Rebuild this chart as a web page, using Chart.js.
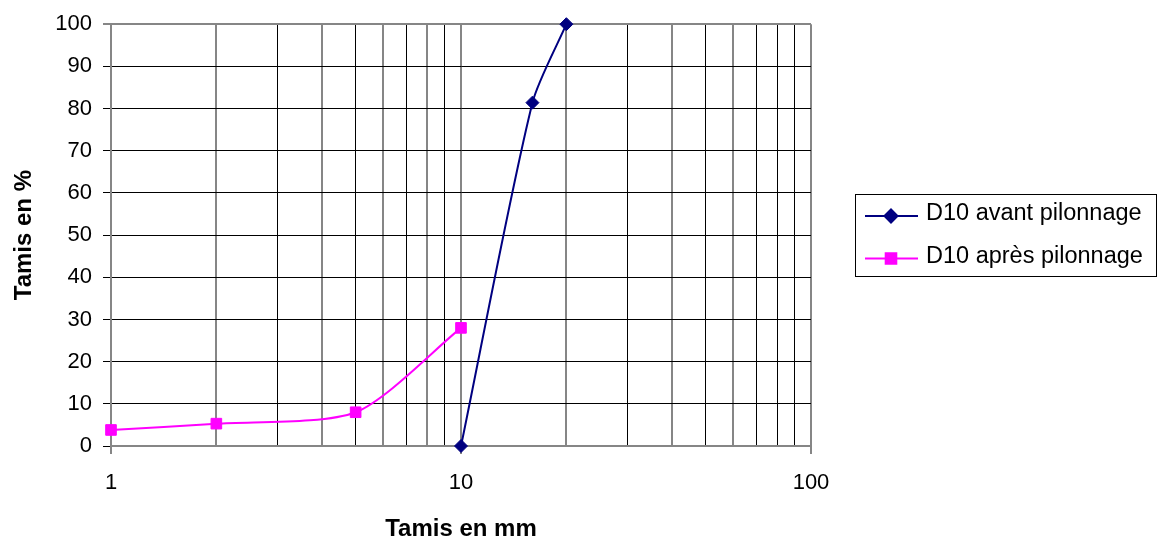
<!DOCTYPE html>
<html>
<head>
<meta charset="utf-8">
<script src="https://cdn.jsdelivr.net/npm/chart.js@4/dist/chart.umd.min.js"></script>
<style>
  html, body { margin: 0; padding: 0; background: #fff; }
  #wrap { width: 1157px; height: 538px; position: relative; }
</style>
</head>
<body>
<div id="wrap"><canvas id="c" width="1157" height="538"></canvas></div>
<script>
// Sieve sizes (mm) and cumulative passing (%)
const sieveBefore = [10, 16, 20];
const passBefore = [0, 81.4, 100];
const sieveAfter = [1, 2, 5, 10];
const passAfter = [3.8, 5.3, 8, 28];

const seriesNames = ['D10 avant pilonnage', 'D10 après pilonnage'];

// Logarithmic grid positions and the labelled decades
const xGridValues = [1, 2, 3, 4, 5, 6, 7, 8, 9, 10, 20, 30, 40, 50, 60, 70, 80, 90, 100];
const xLabelValues = [1, 10, 100];
const yTickValues = [0, 10, 20, 30, 40, 50, 60, 70, 80, 90, 100];

const xTitle = 'Tamis en mm';
const yTitle = 'Tamis en %';

const FONT = "'Liberation Sans', Arial, sans-serif";
const GRAY = '#868686';
const grayLines = new Set([1, 2, 4, 6, 8, 10, 20, 40, 60, 100]);

const toPoints = (xs, ys) => xs.map((x, i) => ({ x, y: ys[i] }));

// Boxed legend to the right of the plot
const boxLegend = {
  id: 'boxLegend',
  afterDraw(chart) {
    const ctx = chart.ctx;
    const left = 855.5, top = 194.5, right = 1156.5, bottom = 276.5;
    ctx.save();
    ctx.strokeStyle = '#000';
    ctx.lineWidth = 1;
    ctx.strokeRect(left, top, right - left, bottom - top);
    const rows = [216, 258.5];
    chart.data.datasets.forEach((ds, i) => {
      const y = rows[i];
      ctx.strokeStyle = ds.borderColor;
      ctx.lineWidth = ds.borderWidth;
      ctx.beginPath();
      ctx.moveTo(865, y);
      ctx.lineTo(918, y);
      ctx.stroke();
      Chart.helpers.drawPoint(ctx, {
        pointStyle: ds.pointStyle,
        radius: ds.pointRadius,
        borderWidth: 1,
        rotation: 0
      }, 891, y);
      ctx.fillStyle = ds.pointBackgroundColor;
      ctx.strokeStyle = ds.pointBorderColor;
      ctx.fill();
      ctx.fillStyle = '#000';
      ctx.font = '23.5px ' + FONT;
      ctx.textBaseline = 'middle';
      ctx.textAlign = 'left';
      ctx.fillText(ds.label, 926, y - 2);
    });
    ctx.restore();
  }
};

new Chart(document.getElementById('c'), {
  type: 'line',
  data: {
    datasets: [
      {
        label: seriesNames[0],
        data: toPoints(sieveBefore, passBefore),
        borderColor: '#000080',
        borderWidth: 2,
        pointStyle: 'rectRot',
        pointRadius: 6.5,
        pointHoverRadius: 6.5,
        pointBackgroundColor: '#000080',
        pointBorderColor: '#000080',
        pointBorderWidth: 1,
        tension: 0.25,
        clip: false
      },
      {
        label: seriesNames[1],
        data: toPoints(sieveAfter, passAfter),
        borderColor: '#FF00FF',
        borderWidth: 2,
        pointStyle: 'rect',
        pointRadius: 7.5,
        pointHoverRadius: 7.5,
        pointBackgroundColor: '#FF00FF',
        pointBorderColor: '#FF00FF',
        pointBorderWidth: 1,
        tension: 0.25,
        clip: false
      }
    ]
  },
  options: {
    responsive: false,
    animation: false,
    events: [],
    layout: { padding: { top: 24, right: 346, bottom: 0, left: 0 } },
    plugins: {
      legend: { display: false },
      tooltip: { enabled: false }
    },
    scales: {
      x: {
        type: 'logarithmic',
        min: 1,
        max: 100,
        afterBuildTicks(scale) {
          scale.ticks = xGridValues.map(v => ({ value: v, major: xLabelValues.includes(v) }));
        },
        afterFit(scale) { scale.height = 92; },
        ticks: {
          autoSkip: false,
          maxRotation: 0,
          padding: 16,
          color: '#000',
          font: { family: FONT, size: 22 },
          callback: (v) => xLabelValues.includes(v) ? String(v) : ''
        },
        grid: {
          color: (c) => grayLines.has(c.tick && c.tick.value) ? GRAY : '#000',
          lineWidth: (c) => grayLines.has(c.tick && c.tick.value) ? 2 : 1,
          tickColor: (c) => (c.tick && xLabelValues.includes(c.tick.value)) ? GRAY : 'rgba(0,0,0,0)',
          tickLength: 8,
          drawOnChartArea: true
        },
        border: { display: true, color: GRAY, width: 2 },
        title: {
          display: true,
          text: xTitle,
          color: '#000',
          font: { family: FONT, size: 24, weight: 'bold', lineHeight: 0.8 },
          padding: { top: 0, bottom: -1 }
        }
      },
      y: {
        min: 0,
        max: 100,
        afterBuildTicks(scale) {
          scale.ticks = yTickValues.map(v => ({ value: v }));
        },
        afterFit(scale) { scale.width = 111; },
        ticks: {
          padding: 11,
          color: '#000',
          font: { family: FONT, size: 22 }
        },
        grid: {
          color: (c) => (c.tick && c.tick.value === 100) ? GRAY : '#000',
          lineWidth: (c) => (c.tick && c.tick.value === 100) ? 2 : 1,
          tickLength: 8
        },
        border: { display: true, color: GRAY, width: 2 },
        title: {
          display: true,
          text: yTitle,
          color: '#000',
          font: { family: FONT, size: 24, weight: 'bold', lineHeight: 0.8 },
          padding: { top: 15, bottom: 0 }
        }
      }
    }
  },
  plugins: [boxLegend]
});
</script>
</body>
</html>
